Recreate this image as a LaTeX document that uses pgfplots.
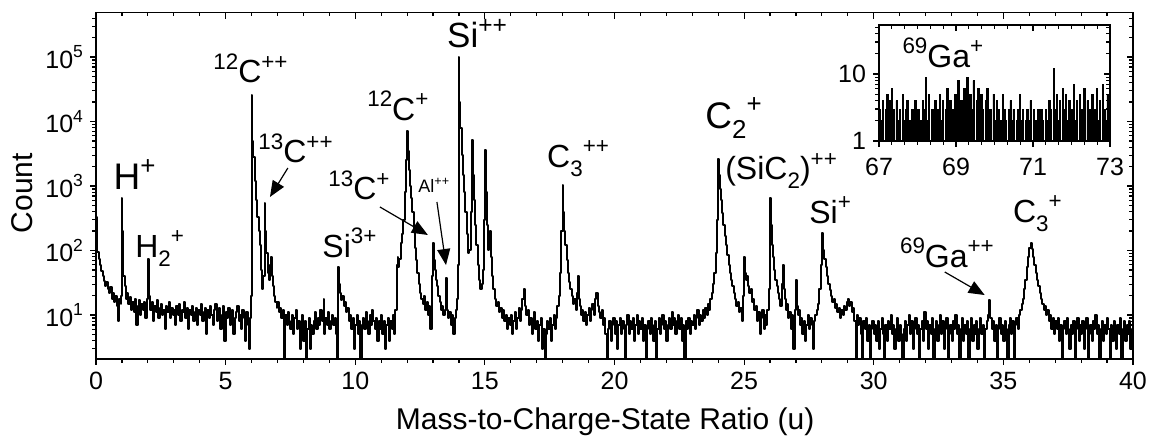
\documentclass[border=0pt]{standalone}
\usepackage{fontspec}
\setmainfont{Liberation Sans}
\usepackage{graphicx}
\usepackage{pgfplots}
\pgfplotsset{compat=1.18}
\usetikzlibrary{arrows.meta}

% raised / lowered small text for ion labels
\newcommand{\sps}[1]{\raisebox{0.42em}{\scalebox{0.7}{#1}}}
\newcommand{\sbs}[1]{\raisebox{-0.28em}{\scalebox{0.7}{#1}}}
\newcommand{\lab}{\fontsize{16}{18}\selectfont}

\begin{document}
\begin{tikzpicture}
\begin{axis}[name=main, scale only axis, width=518.5pt, height=173.15pt,
  axis line style={line width=0.6pt},
  /pgf/number format/assume math mode=true,
  tick style={line width=0.6pt, black},
  major tick length=3pt, minor tick length=1.8pt,
  tick label style={font=\fontsize{12.5}{14}\selectfont},
  xmin=0, xmax=40, ymode=log, ymin=2.08, ymax=4.86e5,
  xtick={0,5,...,40}, minor x tick num=4,
  ytick={10,100,1000,10000,100000},
  minor ytick={3,4,5,6,7,8,9,20,30,40,50,60,70,80,90,200,300,400,500,600,700,800,900,2000,3000,4000,5000,6000,7000,8000,9000,20000,30000,40000,50000,60000,70000,80000,90000,200000,300000,400000},
  tick align=outside, xtick pos=left, ytick pos=left,
  yticklabels={10\sps{1},10\sps{2},10\sps{3},10\sps{4},10\sps{5}},
  xlabel={Mass-to-Charge-State Ratio (u)}, ylabel={Count},
  label style={font=\fontsize{15}{17}\selectfont},
  xlabel style={at={(axis description cs:0.491,-0.205)}, anchor=base},
  ylabel style={at={(axis description cs:-0.0608,0.479)}, anchor=base},
  clip mode=individual,
]
\addplot[black, line width=1pt, const plot, line join=round, mark=none] coordinates {
(0,330) (0.02,150) (0.05,95) (0.1,75) (0.15,60) (0.2,48) (0.25,40) (0.3,34) (0.35,28) (0.4,32) (0.45,25) (0.5,22) (0.55,27) (0.6,18) (0.65,22) (0.7,16) (0.75,20) (0.8,14) (0.85,8) (0.9,18) (0.95,15) (0.98,20)
(1.0,650) (1.02,200) (1.05,40) (1.1,28) (1.15,18) (1.2,22) (1.25,15) (1.3,19) (1.35,12) (1.4,16) (1.45,11) (1.5,18) (1.55,7) (1.6,14) (1.65,17) (1.7,10) (1.75,15) (1.8,12) (1.85,16) (1.9,9) (1.95,14) (1.98,18)
(2.0,75) (2.03,30) (2.05,20) (2.1,12) (2.15,16) (2.2,8) (2.25,14) (2.3,11) (2.35,17) (2.4,9) (2.45,13) (2.5,15) (2.55,10) (2.6,12) (2.65,6) (2.7,14) (2.75,11) (2.8,16) (2.85,9) (2.9,13) (2.95,10)
(3.0,12) (3.05,7) (3.1,14) (3.15,10) (3.2,15) (3.25,8) (3.3,12) (3.35,11) (3.4,16) (3.45,9) (3.5,13) (3.55,6) (3.6,12) (3.65,10) (3.7,14) (3.75,8) (3.8,11) (3.85,13) (3.9,7) (3.95,12)
(4.0,10) (4.05,15) (4.1,8) (4.15,11) (4.2,13) (4.25,5) (4.3,12) (4.35,9) (4.4,14) (4.45,10) (4.5,7) (4.55,12) (4.6,15) (4.65,8) (4.7,11) (4.75,13) (4.8,6) (4.85,10) (4.9,14) (4.95,4)
(5.0,11) (5.05,9) (5.1,13) (5.15,7) (5.2,10) (5.25,12) (5.3,5) (5.35,9) (5.4,11) (5.45,14) (5.5,8) (5.55,10) (5.6,6) (5.65,12) (5.7,9) (5.75,4) (5.8,11) (5.85,7) (5.9,3) (5.95,9) (5.98,20)
(6.0,26000) (6.03,5000) (6.07,2800) (6.12,1200) (6.17,600) (6.22,330) (6.27,200) (6.32,120) (6.37,50) (6.42,25) (6.46,40) (6.5,550) (6.53,200) (6.57,90) (6.62,45) (6.67,35) (6.72,60) (6.75,80) (6.78,40) (6.82,28) (6.87,20) (6.92,16) (6.97,13)
(7.0,16) (7.05,11) (7.1,13) (7.15,9) (7.2,12) (7.25,1) (7.3,10) (7.35,7) (7.4,11) (7.45,8) (7.5,6) (7.55,10) (7.6,5) (7.65,9) (7.7,12) (7.75,6) (7.8,8) (7.85,3) (7.9,7) (7.95,10)
(8.0,4) (8.05,8) (8.1,2) (8.15,6) (8.2,9) (8.25,3) (8.3,7) (8.35,5) (8.4,8) (8.45,11) (8.5,6) (8.55,9) (8.6,7) (8.65,12) (8.7,8) (8.75,10) (8.78,18) (8.8,5) (8.85,9) (8.9,7) (8.95,11)
(9.0,6) (9.05,8) (9.1,10) (9.15,7) (9.2,9) (9.25,5) (9.28,2) (9.33,55) (9.36,30) (9.4,22) (9.45,17) (9.5,20) (9.55,14) (9.6,16) (9.65,11) (9.7,13) (9.75,8) (9.8,10) (9.85,6) (9.9,9) (9.95,3)
(10.0,7) (10.05,10) (10.1,5) (10.15,8) (10.2,2) (10.25,7) (10.3,9) (10.35,6) (10.4,11) (10.45,8) (10.5,5) (10.55,10) (10.6,7) (10.65,12) (10.7,8) (10.75,6) (10.8,9) (10.85,4) (10.9,8) (10.95,6)
(11.0,10) (11.05,5) (11.1,8) (11.15,3) (11.2,7) (11.25,9) (11.3,4) (11.35,8) (11.4,6) (11.45,10) (11.5,5) (11.55,12) (11.6,60) (11.63,80) (11.66,55) (11.7,75) (11.75,130) (11.8,180) (11.85,300) (11.9,800) (11.95,2500)
(12.0,7000) (12.03,3500) (12.06,1800) (12.1,1000) (12.15,650) (12.2,400) (12.25,200) (12.3,110) (12.35,70) (12.4,45) (12.45,30) (12.5,22) (12.55,18) (12.6,15) (12.65,20) (12.7,12) (12.75,16) (12.8,10) (12.85,14) (12.9,6) (12.95,40)
(13.0,130) (13.03,70) (13.06,50) (13.1,35) (13.15,28) (13.2,20) (13.25,16) (13.3,12) (13.35,14) (13.4,10) (13.45,12) (13.5,37) (13.53,12) (13.58,9) (13.63,11) (13.68,7) (13.72,10) (13.78,5) (13.83,9) (13.88,12) (13.93,18) (13.97,60)
(14.0,100000) (14.02,20000) (14.05,8000) (14.1,3000) (14.15,1500) (14.2,800) (14.25,400) (14.3,180) (14.35,90) (14.4,100) (14.45,400) (14.5,5200) (14.53,1500) (14.57,600) (14.62,250) (14.67,120) (14.72,60) (14.77,35) (14.82,25) (14.87,30) (14.92,50) (14.96,300)
(15.0,3600) (15.03,800) (15.07,250) (15.12,100) (15.16,160) (15.2,200) (15.23,80) (15.27,40) (15.32,25) (15.38,18) (15.43,14) (15.5,16) (15.55,11) (15.6,13) (15.65,9) (15.7,12) (15.75,8) (15.8,10) (15.85,6) (15.9,9) (15.95,7)
(16.0,10) (16.05,5) (16.1,8) (16.15,11) (16.2,6) (16.25,9) (16.3,13) (16.35,8) (16.4,12) (16.45,18) (16.5,25) (16.55,14) (16.6,10) (16.65,12) (16.7,7) (16.75,9) (16.8,5) (16.85,8) (16.9,11) (16.95,6)
(17.0,8) (17.05,4) (17.1,7) (17.15,9) (17.2,3) (17.25,6) (17.3,1) (17.35,5) (17.4,8) (17.45,6) (17.5,9) (17.55,4) (17.6,7) (17.65,10) (17.7,6) (17.75,9) (17.8,14) (17.85,20) (17.9,45) (17.95,200)
(18.0,1040) (18.03,400) (18.06,200) (18.1,120) (18.15,70) (18.2,45) (18.25,32) (18.3,25) (18.35,20) (18.4,15) (18.45,18) (18.5,12) (18.55,22) (18.6,40) (18.63,18) (18.68,14) (18.72,10) (18.76,12) (18.8,8) (18.85,11) (18.9,7) (18.95,10)
(19.0,13) (19.05,8) (19.1,12) (19.15,15) (19.2,10) (19.25,18) (19.3,22) (19.35,14) (19.4,11) (19.45,9) (19.5,12) (19.55,7) (19.6,9) (19.65,5) (19.7,1) (19.75,6) (19.8,8) (19.85,4) (19.9,7) (19.95,9)
(20.0,5) (20.05,8) (20.1,3) (20.15,7) (20.2,9) (20.25,5) (20.3,8) (20.35,6) (20.4,1) (20.45,7) (20.5,10) (20.55,5) (20.6,8) (20.65,6) (20.7,9) (20.75,4) (20.8,7) (20.85,10) (20.9,5) (20.95,8)
(21.0,6) (21.05,9) (21.1,4) (21.15,7) (21.2,1) (21.25,6) (21.3,8) (21.35,5) (21.4,9) (21.45,7) (21.5,4) (21.55,8) (21.6,1) (21.65,6) (21.7,9) (21.75,5) (21.8,7) (21.85,10) (21.9,6) (21.95,8)
(22.0,4) (22.05,7) (22.1,9) (22.15,6) (22.2,11) (22.25,7) (22.3,9) (22.35,5) (22.4,8) (22.45,10) (22.5,6) (22.55,9) (22.6,4) (22.65,7) (22.7,1) (22.75,8) (22.8,6) (22.85,9) (22.9,5) (22.95,8)
(23.0,7) (23.05,10) (23.1,6) (23.15,9) (23.2,12) (23.25,7) (23.3,10) (23.35,8) (23.4,12) (23.45,9) (23.5,13) (23.55,10) (23.6,15) (23.65,12) (23.7,18) (23.75,22) (23.8,30) (23.85,45) (23.9,90) (23.95,300)
(24.0,2600) (24.03,1500) (24.06,900) (24.1,600) (24.15,380) (24.2,250) (24.25,170) (24.3,120) (24.35,85) (24.4,60) (24.45,45) (24.5,35) (24.55,28) (24.6,22) (24.65,18) (24.7,14) (24.75,16) (24.8,11) (24.85,13) (24.9,8) (24.95,20)
(25.0,80) (25.03,45) (25.06,35) (25.1,40) (25.15,28) (25.2,22) (25.25,25) (25.3,16) (25.35,18) (25.4,12) (25.45,14) (25.5,8) (25.55,11) (25.6,5) (25.65,9) (25.7,12) (25.75,6) (25.8,10) (25.85,7) (25.9,12) (25.95,25)
(26.0,650) (26.03,250) (26.06,120) (26.1,80) (26.15,50) (26.2,35) (26.25,28) (26.3,22) (26.35,18) (26.4,14) (26.45,30) (26.5,60) (26.53,25) (26.58,18) (26.62,12) (26.66,15) (26.7,9) (26.75,11) (26.8,6) (26.85,10) (26.9,3) (26.95,12)
(27.0,35) (27.03,14) (27.08,10) (27.12,12) (27.16,7) (27.2,9) (27.25,5) (27.3,8) (27.35,4) (27.4,7) (27.45,10) (27.5,6) (27.55,9) (27.6,7) (27.65,3) (27.7,8) (27.75,10) (27.8,12) (27.85,15) (27.9,25) (27.95,60)
(28.0,190) (28.03,140) (28.06,100) (28.1,75) (28.15,55) (28.2,40) (28.25,30) (28.3,24) (28.35,20) (28.4,16) (28.45,18) (28.5,13) (28.55,15) (28.6,11) (28.65,13) (28.7,9) (28.75,12) (28.8,10) (28.85,14) (28.9,12) (28.95,16)
(29.0,18) (29.05,14) (29.1,16) (29.15,11) (29.2,13) (29.25,8) (29.3,1) (29.35,10) (29.4,7) (29.45,9) (29.5,5) (29.55,1) (29.6,8) (29.65,6) (29.7,9) (29.75,4) (29.8,7) (29.85,1) (29.9,6) (29.95,8)
(30.0,5) (30.05,7) (30.1,4) (30.15,8) (30.2,3) (30.25,6) (30.3,9) (30.35,5) (30.4,1) (30.45,7) (30.5,4) (30.55,8) (30.6,6) (30.65,10) (30.7,5) (30.75,7) (30.8,3) (30.85,6) (30.9,9) (30.95,4)
(31.0,7) (31.05,5) (31.1,1) (31.15,6) (31.2,8) (31.25,4) (31.3,7) (31.35,10) (31.4,5) (31.45,8) (31.5,3) (31.55,6) (31.6,9) (31.65,5) (31.7,7) (31.75,1) (31.8,6) (31.85,8) (31.9,4) (31.95,11)
(32.0,6) (32.05,8) (32.1,3) (32.15,7) (32.2,5) (32.25,9) (32.3,1) (32.35,6) (32.4,8) (32.45,4) (32.5,7) (32.55,10) (32.6,5) (32.65,8) (32.7,3) (32.75,6) (32.8,9) (32.85,1) (32.9,5) (32.95,7)
(33.0,4) (33.05,8) (33.1,6) (33.15,10) (33.2,5) (33.25,7) (33.3,1) (33.35,6) (33.4,9) (33.45,4) (33.5,7) (33.55,5) (33.6,8) (33.65,1) (33.7,6) (33.75,9) (33.8,4) (33.85,7) (33.9,5) (33.95,8)
(34.0,3) (34.05,6) (34.1,9) (34.15,5) (34.2,7) (34.25,1) (34.3,6) (34.35,8) (34.4,10) (34.45,17) (34.5,9) (34.55,6) (34.6,8) (34.65,4) (34.7,7) (34.75,1) (34.8,6) (34.85,9) (34.9,5) (34.95,7)
(35.0,4) (35.05,8) (35.1,6) (35.15,1) (35.2,7) (35.25,9) (35.3,5) (35.35,8) (35.4,1) (35.45,7) (35.5,9) (35.55,6) (35.6,10) (35.65,12) (35.7,15) (35.75,18) (35.8,25) (35.85,35) (35.9,55) (35.95,80)
(36.0,110) (36.05,130) (36.1,105) (36.15,80) (36.2,60) (36.25,45) (36.3,35) (36.35,28) (36.4,22) (36.45,18) (36.5,15) (36.55,12) (36.6,14) (36.65,10) (36.7,12) (36.75,8) (36.8,10) (36.85,6) (36.9,9) (36.95,5)
(37.0,8) (37.05,6) (37.1,9) (37.15,4) (37.2,7) (37.25,1) (37.3,6) (37.35,8) (37.4,5) (37.45,9) (37.5,6) (37.55,3) (37.6,7) (37.65,5) (37.7,8) (37.75,1) (37.8,6) (37.85,9) (37.9,4) (37.95,7)
(38.0,5) (38.05,8) (38.1,3) (38.15,6) (38.2,9) (38.25,1) (38.3,5) (38.35,7) (38.4,4) (38.45,8) (38.5,6) (38.55,10) (38.6,5) (38.65,7) (38.7,1) (38.75,6) (38.8,8) (38.85,4) (38.9,7) (38.95,5)
(39.0,9) (39.05,6) (39.1,1) (39.15,7) (39.2,4) (39.25,8) (39.3,6) (39.35,3) (39.4,7) (39.45,5) (39.5,9) (39.55,1) (39.6,6) (39.65,8) (39.7,4) (39.75,7) (39.8,5) (39.85,8) (39.9,3) (39.95,6) (40.0,5)
};
% ion labels
\node[anchor=base west, inner sep=0, font=\fontsize{18.5}{20}\selectfont] at (axis cs:0.66,870) {H\sps{+}};
\node[anchor=base west, inner sep=0, font=\lab] at (axis cs:1.5,79) {H\sbs{2}\sps{+}};
\node[anchor=base west, inner sep=0, font=\lab] at (axis cs:4.51,3.97e4) {\sps{12}C\sps{++}};
\node[anchor=base west, inner sep=0, font=\lab] at (axis cs:6.25,2290) {\sps{13}C\sps{++}};
\node[anchor=base west, inner sep=0, font=\lab] at (axis cs:8.72,79) {Si\sps{3+}};
\node[anchor=base west, inner sep=0, font=\lab] at (axis cs:8.95,607) {\sps{13}C\sps{+}};
\node[anchor=base west, inner sep=0, font=\fontsize{9}{10}\selectfont] at (axis cs:12.42,780) {Al\sps{++}};
\node[anchor=base west, inner sep=0, font=\lab] at (axis cs:10.45,1.05e4) {\sps{12}C\sps{+}};
\node[anchor=base west, inner sep=0, font=\fontsize{17.5}{19}\selectfont] at (axis cs:13.53,1.38e5) {Si\sps{++}};
\node[anchor=base west, inner sep=0, font=\lab] at (axis cs:17.39,1960) {C\sbs{3}\sps{++}};
\node[anchor=base west, inner sep=0, font=\fontsize{18.5}{20}\selectfont] at (axis cs:23.49,7900) {C\sbs{2}\sps{+}};
\node[anchor=base west, inner sep=0, font=\lab] at (axis cs:24.26,1250) {(SiC\sbs{2})\sps{++}};
\node[anchor=base west, inner sep=0, font=\lab] at (axis cs:27.5,266) {Si\sps{+}};
\node[anchor=base west, inner sep=0, font=\lab] at (axis cs:31.0,55) {\sps{69}Ga\sps{++}};
\node[anchor=base west, inner sep=0, font=\lab] at (axis cs:35.36,275) {C\sbs{3}\sps{+}};
% arrows
\draw[-{Triangle[length=8pt,width=6.5pt]}, line width=0.6pt] (axis cs:7.4,1900) -- (axis cs:6.71,676);
\draw[-{Triangle[length=8pt,width=6.5pt]}, line width=0.6pt] (axis cs:10.95,473) -- (axis cs:12.8,174);
\draw[-{Triangle[length=8pt,width=6.5pt]}, line width=0.6pt] (axis cs:13.15,565) -- (axis cs:13.5,59.5);
\draw[-{Triangle[length=8pt,width=6.5pt]}, line width=0.6pt] (axis cs:32.74,46.4) -- (axis cs:34.28,20.4);
\coordinate (inSW) at (rel axis cs:0.7551,0.6295);
\coordinate (bbSW) at (rel axis cs:-0.0926,-0.2339);
\coordinate (bbNE) at (rel axis cs:1.0174,1.0367);
\end{axis}
% mirrored ticks on top and right, pointing inwards
\begin{axis}[scale only axis, width=518.5pt, height=173.15pt,
  axis line style={line width=0.6pt},
  tick style={line width=0.6pt, black},
  major tick length=3pt, minor tick length=1.8pt,
  xmin=0, xmax=40, ymode=log, ymin=2.08, ymax=4.86e5,
  xtick={0,5,...,40}, minor x tick num=4,
  ytick={10,100,1000,10000,100000},
  minor ytick={3,4,5,6,7,8,9,20,30,40,50,60,70,80,90,200,300,400,500,600,700,800,900,2000,3000,4000,5000,6000,7000,8000,9000,20000,30000,40000,50000,60000,70000,80000,90000,200000,300000,400000},
  tick align=inside, xtick pos=right, ytick pos=right,
  xticklabels={}, yticklabels={}]
\end{axis}

% inset
\begin{axis}[at={(inSW)}, anchor=south west,
  scale only axis, width=115.5pt, height=58pt,
  axis line style={line width=0.6pt},
  /pgf/number format/assume math mode=true,
  tick style={line width=0.6pt, black},
  major tick length=3pt, minor tick length=1.8pt,
  tick label style={font=\fontsize{12.5}{14}\selectfont},
  xmin=67, xmax=73, ymode=log, ymin=1, ymax=54,
  xtick={67,69,71,73}, minor x tick num=5,
  ytick={1,10}, minor ytick={2,3,4,5,6,7,8,9,20,30,40,50},
  tick align=outside, xtick pos=left, ytick pos=left,
  yticklabels={1,10}, xticklabel style={yshift=-2pt},
  clip mode=individual,
]
\addplot[black, fill=black, line width=0.4pt, const plot, mark=none] coordinates {
(67.00,3) (67.04,2) (67.08,4) (67.12,1) (67.16,3) (67.20,5) (67.24,2) (67.28,4) (67.32,6) (67.36,3) (67.40,1) (67.44,4) (67.48,2) (67.52,3) (67.56,1) (67.60,5) (67.64,2) (67.68,3) (67.72,4) (67.76,1) (67.80,2) (67.84,3) (67.88,1) (67.92,4) (67.96,2)
(68.00,3) (68.04,1) (68.08,2) (68.12,4) (68.16,3) (68.20,9) (68.24,2) (68.28,5) (68.32,1) (68.36,3) (68.40,2) (68.44,4) (68.48,1) (68.52,3) (68.56,5) (68.60,2) (68.64,4) (68.68,1) (68.72,3) (68.76,6) (68.80,2) (68.84,4) (68.88,3) (68.92,1) (68.96,5)
(69.00,3) (69.04,8) (69.08,2) (69.12,4) (69.16,1) (69.20,6) (69.24,3) (69.28,9) (69.32,2) (69.36,5) (69.40,3) (69.44,8) (69.48,1) (69.52,4) (69.56,6) (69.60,2) (69.64,5) (69.68,3) (69.72,1) (69.76,4) (69.80,6) (69.84,2) (69.88,3) (69.92,1) (69.96,5)
(70.00,2) (70.04,4) (70.08,3) (70.12,1) (70.16,2) (70.20,5) (70.24,3) (70.28,2) (70.32,1) (70.36,3) (70.40,4) (70.44,2) (70.48,3) (70.52,1) (70.56,2) (70.60,3) (70.64,5) (70.68,2) (70.72,3) (70.76,1) (70.80,2) (70.84,3) (70.88,2) (70.92,4) (70.96,1)
(71.00,3) (71.04,2) (71.08,1) (71.12,3) (71.16,2) (71.20,3) (71.24,2) (71.28,1) (71.32,3) (71.36,2) (71.40,4) (71.44,3) (71.48,1) (71.52,12) (71.56,3) (71.60,5) (71.64,2) (71.68,4) (71.72,1) (71.76,6) (71.80,3) (71.84,5) (71.88,2) (71.92,4) (71.96,1)
(72.00,3) (72.04,7) (72.08,2) (72.12,4) (72.16,1) (72.20,5) (72.24,3) (72.28,2) (72.32,6) (72.36,1) (72.40,4) (72.44,3) (72.48,2) (72.52,5) (72.56,1) (72.60,3) (72.64,6) (72.68,2) (72.72,4) (72.76,1) (72.80,7) (72.84,3) (72.88,2) (72.92,5) (72.96,1) (73.00,3)
} \closedcycle;
\node[anchor=base west, inner sep=0, font=\lab] at (axis cs:67.6,12.7) {\sps{69}Ga\sps{+}};
\end{axis}
\begin{axis}[at={(inSW)}, anchor=south west,
  scale only axis, width=115.5pt, height=58pt,
  axis line style={line width=0.6pt},
  tick style={line width=0.6pt, black},
  major tick length=3pt, minor tick length=1.8pt,
  xmin=67, xmax=73, ymode=log, ymin=1, ymax=54,
  xtick={67,69,71,73}, minor x tick num=5,
  ytick={1,10}, minor ytick={2,3,4,5,6,7,8,9,20,30,40,50},
  tick align=inside, xtick pos=right, ytick pos=right,
  xticklabels={}, yticklabels={}]
\end{axis}

\pgfresetboundingbox
\useasboundingbox (bbSW) rectangle (bbNE);
\end{tikzpicture}
\end{document}
